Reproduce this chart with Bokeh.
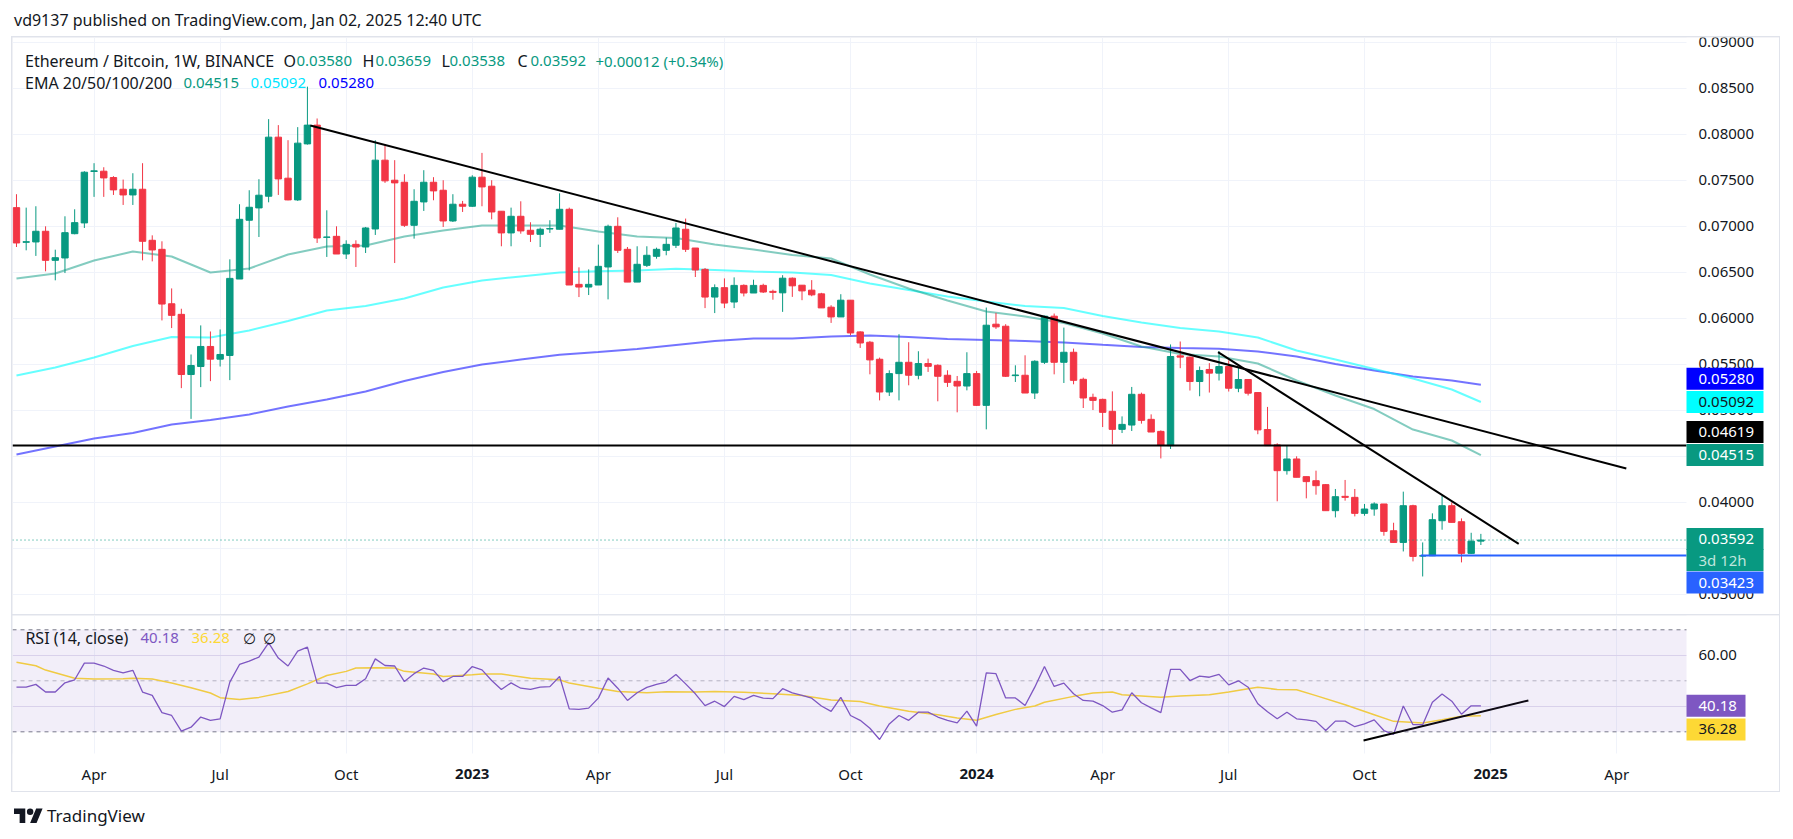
import numpy as np
import pandas as pd
from bokeh.plotting import figure
from bokeh.models import (Range1d, FixedTicker, Label, Div, BoxAnnotation)
from bokeh.layouts import column
from bokeh.embed import file_html
from bokeh.resources import INLINE
from bokeh.core.properties import value

# ---------------- data ----------------
FIRST_WEEK = "2022-02-07"   # weekly bars, Monday open

open_ = [0.07205, 0.06828, 0.06832, 0.06948, 0.06632, 0.06658, 0.06922, 0.07039, 0.07598, 0.07601,
         0.07532, 0.07405, 0.07343, 0.07405, 0.06850, 0.06752, 0.06160, 0.06045, 0.05391, 0.05478,
         0.05696, 0.05558, 0.05598, 0.06429, 0.07068, 0.07202, 0.07329, 0.07971, 0.07525, 0.07289,
         0.07898, 0.08102, 0.06882, 0.06893, 0.06701, 0.06806, 0.06777, 0.06973, 0.07721, 0.07503,
         0.07481, 0.07013, 0.07267, 0.07481, 0.07394, 0.07060, 0.07242, 0.07220, 0.07536, 0.07438,
         0.07166, 0.06930, 0.07111, 0.06959, 0.06915, 0.06973, 0.06970, 0.07187, 0.06371, 0.06342,
         0.06364, 0.06560, 0.07002, 0.06752, 0.06396, 0.06578, 0.06676, 0.06741, 0.06796, 0.06970,
         0.06766, 0.06534, 0.06233, 0.06335, 0.06179, 0.06360, 0.06277, 0.06360, 0.06295, 0.06279,
         0.06438, 0.06362, 0.06308, 0.06268, 0.06123, 0.06017, 0.06199, 0.05854, 0.05742, 0.05557,
         0.05201, 0.05401, 0.05524, 0.05383, 0.05510, 0.05491, 0.05383, 0.05317, 0.05266, 0.05401,
         0.05056, 0.05938, 0.05916, 0.05379, 0.05383, 0.05190, 0.05524, 0.06025, 0.05524, 0.05633,
         0.05339, 0.05143, 0.05121, 0.04991, 0.04795, 0.04842, 0.05176, 0.04904, 0.04773, 0.04618,
         0.05594, 0.05580, 0.05315, 0.05446, 0.05406, 0.05478, 0.05242, 0.05337, 0.05195, 0.04793,
         0.04626, 0.04346, 0.04473, 0.04281, 0.04237, 0.04194, 0.03911, 0.04067, 0.04056, 0.03882,
         0.03929, 0.03984, 0.03693, 0.03566, 0.03965, 0.03418, 0.03421, 0.03802, 0.03965, 0.03791,
         0.03447, 0.03580]
high = [0.07351, 0.07205, 0.07220, 0.07002, 0.06748, 0.07111, 0.07187, 0.07601, 0.07688, 0.07644,
        0.07547, 0.07510, 0.07579, 0.07688, 0.06904, 0.06839, 0.06327, 0.06106, 0.05609, 0.05925,
        0.05859, 0.05881, 0.06643, 0.07242, 0.07394, 0.07514, 0.08167, 0.08102, 0.07938, 0.08080,
        0.08520, 0.08174, 0.07176, 0.07002, 0.06850, 0.06850, 0.06995, 0.07938, 0.07895, 0.07721,
        0.07568, 0.07405, 0.07612, 0.07536, 0.07503, 0.07351, 0.07278, 0.07557, 0.07800, 0.07503,
        0.07166, 0.07205, 0.07274, 0.07046, 0.06988, 0.07068, 0.07361, 0.07205, 0.06556, 0.06534,
        0.06803, 0.07020, 0.07100, 0.06777, 0.06785, 0.06785, 0.06770, 0.06879, 0.07039, 0.07086,
        0.06766, 0.06549, 0.06371, 0.06436, 0.06447, 0.06371, 0.06422, 0.06378, 0.06313, 0.06471,
        0.06446, 0.06362, 0.06417, 0.06279, 0.06144, 0.06264, 0.06199, 0.05861, 0.05756, 0.05575,
        0.05437, 0.05829, 0.05742, 0.05644, 0.05564, 0.05502, 0.05437, 0.05375, 0.05633, 0.05430,
        0.06119, 0.06061, 0.05938, 0.05491, 0.05600, 0.05546, 0.06030, 0.06054, 0.05901, 0.05673,
        0.05357, 0.05183, 0.05129, 0.05208, 0.04936, 0.05256, 0.05194, 0.04958, 0.04784, 0.05718,
        0.05750, 0.05587, 0.05478, 0.05515, 0.05645, 0.05544, 0.05471, 0.05337, 0.05195, 0.05039,
        0.04644, 0.04618, 0.04502, 0.04281, 0.04346, 0.04201, 0.04147, 0.04245, 0.04147, 0.03984,
        0.04002, 0.03984, 0.03780, 0.04118, 0.03976, 0.03566, 0.03882, 0.04074, 0.04002, 0.03827,
        0.03671, 0.03659]
low = [0.06777, 0.06741, 0.06680, 0.06513, 0.06415, 0.06494, 0.06915, 0.06984, 0.07322, 0.07322,
       0.07343, 0.07234, 0.07234, 0.06632, 0.06621, 0.05979, 0.05896, 0.05243, 0.04909, 0.05254,
       0.05319, 0.05478, 0.05330, 0.06429, 0.06523, 0.06886, 0.07263, 0.07343, 0.07285, 0.07278,
       0.07890, 0.06821, 0.06669, 0.06701, 0.06647, 0.06560, 0.06712, 0.06908, 0.07474, 0.06603,
       0.06995, 0.06868, 0.07169, 0.07285, 0.06995, 0.07049, 0.07158, 0.07213, 0.07220, 0.07078,
       0.06785, 0.06785, 0.06922, 0.06832, 0.06777, 0.06930, 0.06970, 0.06364, 0.06233, 0.06255,
       0.06364, 0.06208, 0.06712, 0.06396, 0.06396, 0.06560, 0.06650, 0.06687, 0.06766, 0.06723,
       0.06451, 0.06113, 0.06059, 0.06113, 0.06113, 0.06240, 0.06277, 0.06277, 0.06204, 0.06072,
       0.06235, 0.06199, 0.06242, 0.06115, 0.05952, 0.06017, 0.05818, 0.05680, 0.05393, 0.05110,
       0.05158, 0.05110, 0.05274, 0.05339, 0.05419, 0.05100, 0.05256, 0.04980, 0.05219, 0.05049,
       0.04795, 0.05887, 0.05364, 0.05310, 0.05190, 0.05125, 0.05506, 0.05393, 0.05299, 0.05285,
       0.05027, 0.05005, 0.04820, 0.04632, 0.04755, 0.04777, 0.04857, 0.04766, 0.04479, 0.04582,
       0.05460, 0.05217, 0.05155, 0.05195, 0.05326, 0.05206, 0.05199, 0.05163, 0.04742, 0.04618,
       0.04013, 0.04303, 0.04274, 0.04045, 0.04085, 0.03911, 0.03838, 0.04020, 0.03849, 0.03856,
       0.03856, 0.03639, 0.03566, 0.03468, 0.03360, 0.03196, 0.03418, 0.03704, 0.03784, 0.03349,
       0.03440, 0.03538]
close = [0.06821, 0.06835, 0.06948, 0.06632, 0.06661, 0.06933, 0.07042, 0.07590, 0.07605, 0.07528,
         0.07398, 0.07343, 0.07405, 0.06839, 0.06745, 0.06157, 0.06034, 0.05391, 0.05489, 0.05696,
         0.05558, 0.05609, 0.06436, 0.07078, 0.07209, 0.07340, 0.07971, 0.07517, 0.07289, 0.07906,
         0.08102, 0.06875, 0.06886, 0.06701, 0.06806, 0.06777, 0.06984, 0.07721, 0.07496, 0.07474,
         0.07013, 0.07274, 0.07481, 0.07387, 0.07060, 0.07242, 0.07220, 0.07536, 0.07430, 0.07158,
         0.06930, 0.07111, 0.06952, 0.06915, 0.06970, 0.06977, 0.07187, 0.06364, 0.06342, 0.06371,
         0.06567, 0.07002, 0.06741, 0.06396, 0.06589, 0.06687, 0.06752, 0.06806, 0.06984, 0.06752,
         0.06527, 0.06233, 0.06335, 0.06168, 0.06360, 0.06277, 0.06360, 0.06288, 0.06284, 0.06438,
         0.06355, 0.06300, 0.06257, 0.06115, 0.06017, 0.06199, 0.05843, 0.05734, 0.05550, 0.05201,
         0.05401, 0.05524, 0.05383, 0.05510, 0.05480, 0.05372, 0.05306, 0.05266, 0.05401, 0.05056,
         0.05927, 0.05909, 0.05372, 0.05386, 0.05190, 0.05535, 0.06025, 0.05524, 0.05633, 0.05328,
         0.05136, 0.05110, 0.04980, 0.04795, 0.04849, 0.05176, 0.04893, 0.04766, 0.04624, 0.05587,
         0.05580, 0.05315, 0.05435, 0.05406, 0.05478, 0.05242, 0.05337, 0.05188, 0.04789, 0.04618,
         0.04346, 0.04473, 0.04274, 0.04227, 0.04183, 0.03911, 0.04063, 0.04056, 0.03882, 0.03929,
         0.03984, 0.03686, 0.03566, 0.03965, 0.03414, 0.03421, 0.03813, 0.03965, 0.03784, 0.03447,
         0.03580, 0.03592]

# EMA lines sampled every 4 weeks (week index -> value)
ema_weeks = list(range(0, 149, 4)) + [151]
ema20 = [0.06435, 0.06489, 0.06630, 0.06728, 0.06674, 0.06500, 0.06543, 0.06696, 0.06783, 0.06793,
         0.06891, 0.06957, 0.07011, 0.07011, 0.07011, 0.06946, 0.06891, 0.06875, 0.06804, 0.06750,
         0.06690, 0.06652, 0.06478, 0.06326, 0.06196, 0.06076, 0.06022, 0.05951, 0.05837, 0.05696,
         0.05614, 0.05587, 0.05511, 0.05326, 0.05163, 0.05016, 0.04793, 0.04674, 0.04515]
ema50 = [0.05380, 0.05467, 0.05576, 0.05701, 0.05799, 0.05793, 0.05870, 0.05973, 0.06087, 0.06136,
         0.06217, 0.06337, 0.06413, 0.06457, 0.06500, 0.06514, 0.06522, 0.06540, 0.06527, 0.06511,
         0.06500, 0.06473, 0.06380, 0.06310, 0.06239, 0.06185, 0.06136, 0.06114, 0.06027, 0.05957,
         0.05897, 0.05859, 0.05793, 0.05652, 0.05554, 0.05451, 0.05348, 0.05228, 0.05092]
ema200 = [0.04522, 0.04609, 0.04696, 0.04755, 0.04848, 0.04897, 0.04957, 0.05043, 0.05120, 0.05207,
          0.05321, 0.05418, 0.05500, 0.05554, 0.05605, 0.05636, 0.05668, 0.05712, 0.05755, 0.05783,
          0.05783, 0.05804, 0.05815, 0.05799, 0.05777, 0.05766, 0.05755, 0.05739, 0.05714, 0.05690,
          0.05679, 0.05671, 0.05641, 0.05587, 0.05505, 0.05435, 0.05370, 0.05326, 0.05280]

rsi = [47.5, 47.5, 48.6, 45.6, 45.6, 49.2, 50.4, 56.9, 56.9, 55.8,
       54.1, 53.1, 54.1, 45.6, 44.3, 37.5, 36.4, 30.3, 31.8, 35.8,
       34.5, 35.1, 49.5, 56.4, 57.7, 59.3, 64.9, 58.9, 55.8, 61.6,
       63.2, 49.1, 49.1, 47.3, 48.2, 48.2, 50.8, 58.6, 56.0, 55.8,
       49.7, 52.8, 55.0, 54.1, 49.7, 51.7, 51.7, 55.6, 54.3, 50.1,
       46.6, 49.2, 47.1, 46.6, 47.5, 47.7, 51.7, 39.0, 38.8, 39.3,
       43.2, 51.1, 47.1, 42.3, 45.3, 47.4, 48.6, 49.5, 52.5, 48.8,
       44.9, 40.3, 42.0, 39.9, 43.9, 42.6,
       44.3, 43.2, 43.0, 46.9, 45.3, 44.3, 43.2, 40.1, 38.0,
       43.5, 36.4, 34.5, 31.4, 27.0, 33.1, 36.4, 34.5, 37.7, 37.7,
       35.8, 34.5, 33.5, 38.1, 32.2, 53.1, 52.8, 43.3, 43.3, 40.3,
       47.5, 55.6, 47.8, 49.1, 44.9, 42.3, 42.0, 40.3, 37.7, 38.6,
       45.3, 41.4, 39.4, 37.5, 54.5, 54.5, 50.1, 51.8, 51.4, 52.5,
       48.4, 50.0, 47.5, 41.0, 37.9, 35.1, 37.7, 35.1, 34.7, 34.1,
       30.5, 34.2, 34.2, 32.0, 33.1, 34.7, 30.5, 29.0, 40.1, 32.8,
       32.8, 41.6, 44.8, 42.0, 36.9, 40.2, 40.18]

rsi_ma_weeks = [0, 2, 3, 6, 8, 11, 12, 14, 16, 18, 20, 21, 23, 25, 28, 30, 32, 34, 35, 37,
                39, 40, 43, 44, 47, 48, 50, 53, 56, 57, 60, 62, 65, 67, 70, 72, 75, 78, 81, 84,
                87, 89, 92, 95, 97, 99, 101, 103, 105, 106, 109, 111, 113, 114, 118, 120, 123, 125,
                127, 128, 130, 132, 134, 137, 140, 142, 145, 147, 149, 151]
rsi_ma = [57.3, 55.9, 54.2, 51.0, 50.7, 50.8, 51.0, 50.7, 49.1, 47.3, 45.2, 43.4, 42.7, 43.5, 45.8,
          48.8, 52.1, 53.7, 55.0, 55.1, 55.0, 53.7, 52.7, 51.7, 52.4, 52.7, 52.7, 51.0, 50.4, 49.1,
          47.1, 45.8, 45.3, 45.7, 45.6, 45.8, 45.5, 44.9, 44.2, 42.5, 41.9, 40.1, 38.1, 36.7, 35.4,
          34.5, 36.8, 38.8, 40.1, 41.6, 43.9, 45.2, 45.6, 44.5, 43.6, 44.0, 44.5, 45.6, 46.9, 47.5,
          46.6, 46.5, 44.2, 40.6, 36.7, 34.1, 33.5, 34.7, 36.1, 36.28]

# drawn lines (week index, value)
trend_long_w = [30.3, 166.0]
trend_long_p = [0.08098, 0.04370]
trend_steep_w = [123.9, 154.9]
trend_steep_p = [0.05634, 0.03551]
rsi_trend_w = [138.9, 155.9]
rsi_trend_v = [26.6, 42.3]
support_level = 0.04619
low_level_start_w = 144.8
low_level = 0.03423
countdown = "3d 12h"

price_ticks = [0.030, 0.035, 0.040, 0.045, 0.050, 0.055, 0.060, 0.065, 0.070, 0.075, 0.080, 0.085, 0.090]
rsi_ticks = [40, 60]
rsi_bands = [70, 50, 30]
tick_dates = ["2022-04-04", "2022-07-04", "2022-10-03", "2023-01-02", "2023-04-03", "2023-07-03",
              "2023-10-02", "2024-01-01", "2024-04-01", "2024-07-01", "2024-10-07", "2025-01-06",
              "2025-04-07"]
tick_labels = ["Apr", "Jul", "Oct", "2023", "Apr", "Jul", "Oct", "2024", "Apr", "Jul", "Oct", "2025", "Apr"]

# ---------------- styling / geometry ----------------
FONT = "Noto Sans"
TXT = "#131722"
UP = "#089981"
DOWN = "#f23645"
GRID = "#f0f3fa"

PXW = 9.698                     # pixels per weekly bar
FRAME_W = 1767                  # chart area incl. the price-scale column
X0 = -0.41
X1 = X0 + FRAME_W / PXW
DATA_END = X0 + 1674 / PXW      # where the price-scale column begins
MAIN_H, RSI_H, TIME_H = 577, 138, 38
PY0, PY1 = 0.027826, 0.090543
RY0, RY1 = 21.5, 75.6
ppu_main = MAIN_H / (PY1 - PY0)
ppu_rsi = RSI_H / (RY1 - RY0)
RY_BOTTOM = RY0 - TIME_H / ppu_rsi      # bottom of the time-scale strip

t0 = pd.Timestamp(FIRST_WEEK)
tick_weeks = [int(round((pd.Timestamp(d) - t0).days / 7)) for d in tick_dates]
n = len(close)
x = np.arange(n)
o = np.array(open_); c = np.array(close); h = np.array(high); l = np.array(low)
colors = [UP if ci >= oi else DOWN for oi, ci in zip(o, c)]

xr = Range1d(X0, X1)


def base_fig(height, yr):
    f = figure(frame_width=FRAME_W, frame_height=height, x_range=xr, y_range=yr,
               output_backend="svg", toolbar_location=None,
               min_border_left=0, min_border_right=0, min_border_top=0, min_border_bottom=0,
               outline_line_color=None, background_fill_color="white", border_fill_color="white")
    f.xaxis.visible = False
    f.yaxis.visible = False
    f.xgrid.ticker = FixedTicker(ticks=tick_weeks)
    f.xgrid.grid_line_color = GRID
    # price-scale column background (hides grid lines there)
    f.add_layout(BoxAnnotation(left=DATA_END, fill_color="white", fill_alpha=1.0,
                               line_color=None, level="underlay"))
    return f


def txt(fig, xs, ys, text, color, size="15px"):
    fig.add_layout(Label(x=xs, y=ys, x_units="screen", y_units="screen", text=text,
                         text_color=color, text_font=FONT, text_font_size=size,
                         text_baseline="middle", text_align="left"))


def scale_labels(fig, ticks, fmt):
    fig.text(x=[DATA_END] * len(ticks), y=ticks, text=[fmt.format(t) for t in ticks],
             x_offset=12, text_baseline="middle", text_align="left",
             text_font=value(FONT), text_font_size="15px", text_color=TXT)


def box(fig, yval, text, bg, fg, ppu, shift_px=0, width_px=77):
    yc = yval + shift_px / ppu
    w = width_px / PXW
    fig.rect(x=[DATA_END + w / 2], y=[yc], width=[w], height=22, height_units="screen",
             fill_color=bg, line_color=None)
    fig.text(x=[DATA_END], y=[yc], text=[text], x_offset=12, text_baseline="middle",
             text_align="left", text_font=value(FONT), text_font_size="15px", text_color=fg)


# ---------------- main pane ----------------
p = base_fig(MAIN_H, Range1d(PY0, PY1))
p.ygrid.ticker = FixedTicker(ticks=price_ticks)
p.ygrid.grid_line_color = GRID

p.line(ema_weeks, ema200, line_color="#0000ff", line_alpha=0.55, line_width=2)
p.line(ema_weeks, ema50, line_color="#00ffff", line_alpha=0.6, line_width=2)
p.line(ema_weeks, ema20, line_color=UP, line_alpha=0.5, line_width=2)

p.segment(x0=x, y0=h, x1=x, y1=l, line_color=colors, line_width=1)
p.vbar(x=x, width=0.66, top=np.maximum(o, c), bottom=np.minimum(o, c),
       fill_color=colors, line_color=colors, line_width=1)

p.line([X0, DATA_END], [close[-1], close[-1]], line_color=UP, line_width=1, line_dash="1 3")
p.line([X0, DATA_END], [support_level, support_level], line_color="black", line_width=2)
p.line([low_level_start_w, DATA_END], [low_level, low_level], line_color="#2962ff", line_width=2)
p.line(trend_long_w, trend_long_p, line_color="black", line_width=2)
p.line(trend_steep_w, trend_steep_p, line_color="black", line_width=2)

scale_labels(p, price_ticks, "{:.5f}")
box(p, ema200[-1], f"{ema200[-1]:.5f}", "#0000ff", "white", ppu_main, shift_px=6)
box(p, ema50[-1], f"{ema50[-1]:.5f}", "#00ffff", TXT, ppu_main)
box(p, support_level, f"{support_level:.5f}", "black", "white", ppu_main, shift_px=13.5)
box(p, ema20[-1], f"{ema20[-1]:.5f}", UP, "white", ppu_main)
box(p, close[-1], f"{close[-1]:.5f}", UP, "white", ppu_main, shift_px=1)
box(p, close[-1], countdown, UP, "#bfe6dd", ppu_main, shift_px=-20)
box(p, low_level, f"{low_level:.5f}", "#2962ff", "white", ppu_main, shift_px=-27)

L1, L2 = 554, 532
txt(p, 12.5, L1, "Ethereum / Bitcoin, 1W, BINANCE", TXT, "16px")
for lab, xv, val, xn in [("O", 271, open_[-1], 284), ("H", 350, high[-1], 363),
                         ("L", 429, low[-1], 437), ("C", 505, close[-1], 518)]:
    txt(p, xv, L1, lab, TXT, "16px")
    txt(p, xn, L1, f"{val:.5f}", UP)
chg = close[-1] - close[-2]
txt(p, 583, L1, f"+{chg:.5f} (+{chg / close[-2] * 100:.2f}%)", UP)
txt(p, 12.5, L2, "EMA 20/50/100/200", TXT, "16px")
txt(p, 171, L2, f"{ema20[-1]:.5f}", UP)
txt(p, 238, L2, f"{ema50[-1]:.5f}", "#00e5ff")
txt(p, 306, L2, f"{ema200[-1]:.5f}", "#0000ff")

# ---------------- RSI pane + time scale ----------------
r = base_fig(RSI_H + TIME_H, Range1d(RY_BOTTOM, RY1))
# time-scale strip background (hides grid lines there)
r.add_layout(BoxAnnotation(top=RY0, fill_color="white", fill_alpha=1.0,
                           line_color=None, level="underlay"))
r.add_layout(BoxAnnotation(bottom=30, top=70, right=DATA_END, fill_color="#7e57c2",
                           fill_alpha=0.1, line_color=None))
r.ygrid.ticker = FixedTicker(ticks=rsi_ticks)
r.ygrid.grid_line_color = "#e4dff0"

for lvl, a in zip(rsi_bands, [1.0, 0.5, 1.0]):
    r.line([X0, DATA_END], [lvl, lvl], line_color="#787b86", line_alpha=a,
           line_width=1, line_dash="4 4")
r.line(rsi_ma_weeks, rsi_ma, line_color="#fdd835", line_width=1.5)
r.line(x, rsi, line_color="#7e57c2", line_width=1.3)
r.line(rsi_trend_w, rsi_trend_v, line_color="black", line_width=2)

scale_labels(r, rsi_ticks, "{:.2f}")
box(r, rsi[-1], f"{rsi[-1]:.2f}", "#7e57c2", "white", ppu_rsi, width_px=59)
box(r, rsi_ma[-1], f"{rsi_ma[-1]:.2f}", "#fdd835", TXT, ppu_rsi, shift_px=-13.7, width_px=59)

# time-scale labels (years in bold, as on TradingView)
y_time = RY0 - 20 / ppu_rsi
is_year = [s.isdigit() for s in tick_labels]
for bold in (False, True):
    xs = [w for w, yb in zip(tick_weeks, is_year) if yb == bold]
    ts = [s for s, yb in zip(tick_labels, is_year) if yb == bold]
    r.text(x=xs, y=[y_time] * len(xs), text=ts, text_align="center", text_baseline="middle",
           text_font=value(FONT), text_font_size="15px", text_color=TXT,
           text_font_style="bold" if bold else "normal")

R1 = 116 + TIME_H
txt(r, 12.9, R1, "RSI (14, close)", TXT, "16px")
txt(r, 128, R1, f"{rsi[-1]:.2f}", "#7e57c2")
txt(r, 179, R1, f"{rsi_ma[-1]:.2f}", "#fdd835")
txt(r, 230.5, R1, "∅", TXT)
txt(r, 250, R1, "∅", TXT)

# ---------------- page ----------------
title = Div(text="vd9137 published on TradingView.com, Jan 02, 2025 12:40 UTC",
            width=1700, height=36, margin=(0, 0, 0, 0),
            styles={"font-family": FONT, "font-size": "16px", "color": TXT,
                    "padding-left": "14px", "line-height": "40px"})
chart = column(p, r, spacing=1, margin=(0, 0, 0, 11),
               styles={"border": "1px solid #e0e3eb", "background-color": "#e0e3eb"})
logo = ('<div style="display:flex;align-items:center;gap:4px;font-family:\'Noto Sans\';'
        'font-size:17px;color:#131722;padding-top:12px;padding-left:14px">'
        '<svg width="29" height="23" viewBox="0 0 36 28"><path d="M14 22H7V11H0V4h14v18zM28 22h-8l7.5-18h8L28 22z" fill="#131722"/>'
        '<circle cx="20" cy="8" r="4" fill="#131722"/></svg><span>TradingView</span></div>')
footer = Div(text=logo, width=300, height=36, margin=(0, 0, 0, 0))
page = column(title, chart, footer, spacing=0)

open("out.html", "w").write(file_html(page, INLINE))
